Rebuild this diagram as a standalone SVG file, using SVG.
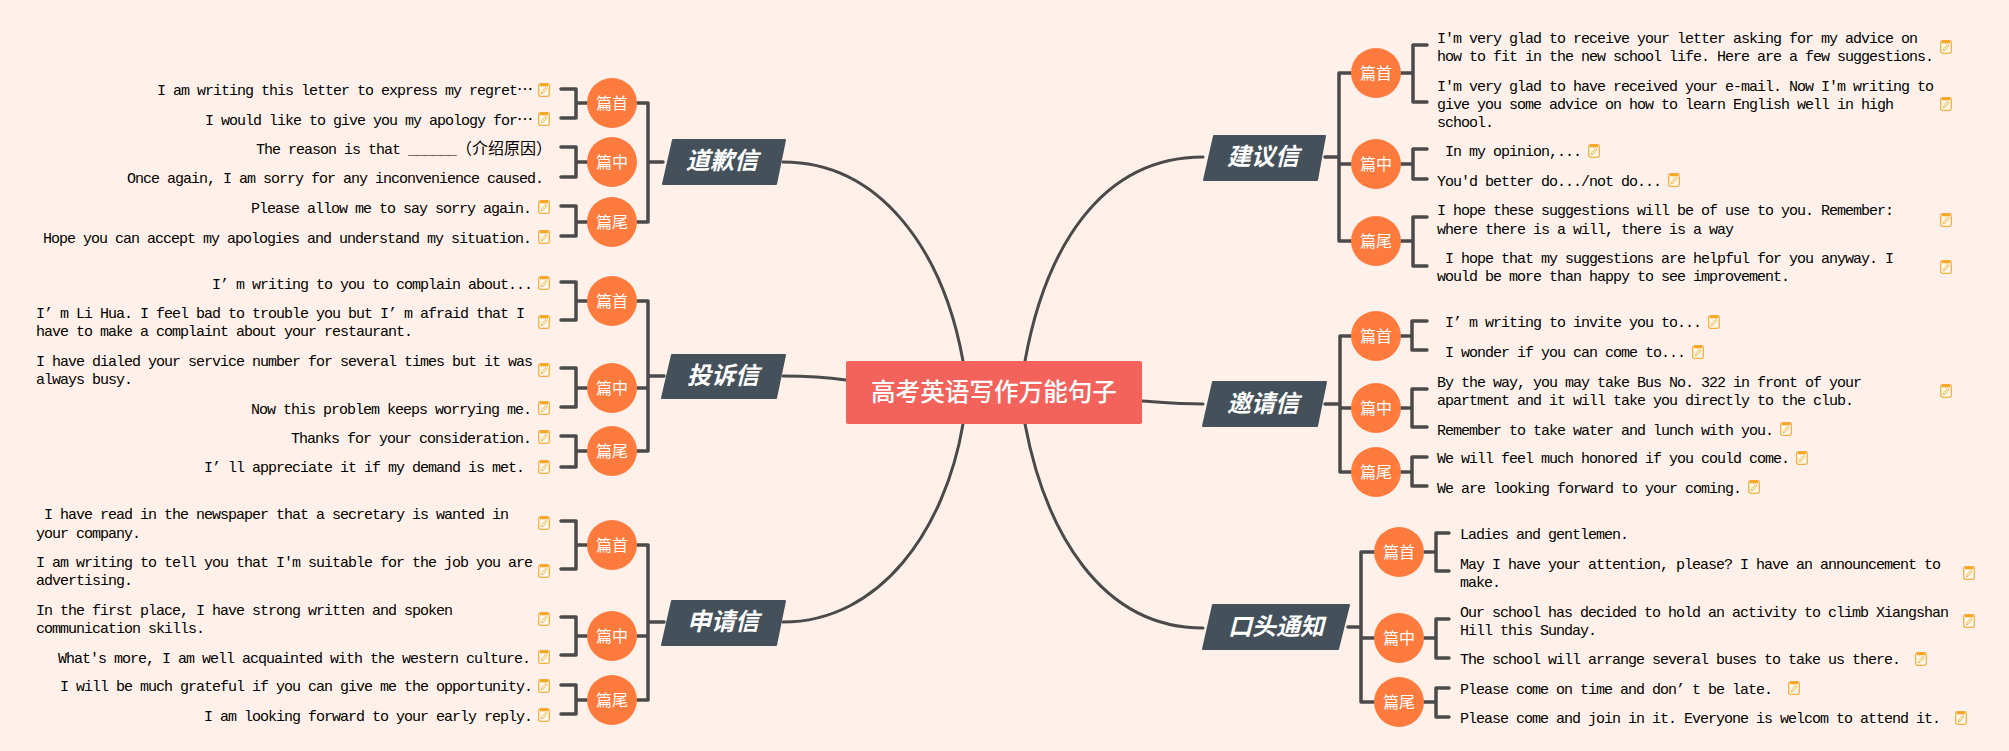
<svg xmlns="http://www.w3.org/2000/svg" xmlns:xlink="http://www.w3.org/1999/xlink" width="2009" height="751" viewBox="0 0 2009 751">
<style>
.c{fill:none;stroke:#4a4a4a;stroke-width:3.5;stroke-linecap:round;stroke-linejoin:round}
.m{fill:none;stroke:#4a4a4a;stroke-width:3;stroke-linecap:round}
.o{fill:#ff7a3d}
.ot{font-family:"Noto Sans CJK SC",sans-serif;font-size:16px;fill:#fff;text-anchor:middle}
.b{fill:#44515a;stroke:#44515a;stroke-width:2;stroke-linejoin:round}
.bt{font-family:"Noto Sans CJK SC",sans-serif;font-size:24px;font-weight:700;font-style:italic;fill:#fff;text-anchor:middle}
.t{font-family:"Liberation Mono","Noto Sans CJK SC",monospace;font-size:15px;letter-spacing:-1px;fill:#000}
.z{font-family:"Noto Sans CJK SC",sans-serif;font-size:16px;letter-spacing:0}
</style>
<defs>
<g id="note">
<rect x="0.7" y="0.7" width="10.6" height="12.6" rx="1.8" fill="#fff8ee" stroke="#f5b041" stroke-width="1.3"/>
<rect x="2" y="0.7" width="8" height="2.6" fill="#f5a623"/>
<path d="M3.5,11 L4,8.6 L7.6,4.4 L9,5.6 L5.4,9.9 Z" fill="none" stroke="#f5b041" stroke-width="0.9"/>
</g>
</defs>
<rect width="2009" height="751" fill="#fff1ea"/>
<g id="connectors">
<path class="m" d="M963,361 C943,250 880,162 783,162"/>
<path class="m" d="M846,380 C825,377 810,376 783,376"/>
<path class="m" d="M963,424 C945,530 880,622 783,622"/>
<path class="m" d="M1025,361 C1045,250 1100,157 1203,157"/>
<path class="m" d="M1142,401 C1170,403 1180,404 1203,404"/>
<path class="m" d="M1025,424 C1045,530 1100,628 1203,628"/>
<path class="c" d="M637,103H648V222H637M648,162H663"/>
<path class="c" d="M587,103H576M561,89H576V118H561"/>
<path class="c" d="M587,162H576M561,147H576V177H561"/>
<path class="c" d="M587,222H576M561,206H576V236H561"/>
<path class="c" d="M637,301H648V451H637M637,388H648M648,376H664"/>
<path class="c" d="M587,301H576M561,282H576V320H561"/>
<path class="c" d="M587,388H576M561,368H576V407H561"/>
<path class="c" d="M587,451H576M561,436H576V467H561"/>
<path class="c" d="M637,545H648V700H637M637,636H648M648,622H664"/>
<path class="c" d="M587,545H576M561,521H576V569H561"/>
<path class="c" d="M587,636H576M561,617H576V655H561"/>
<path class="c" d="M587,700H576M561,685H576V714H561"/>
<path class="c" d="M1351,73H1339V241H1351M1351,164H1339M1325,157H1339"/>
<path class="c" d="M1401,73H1413M1427,45H1413V102H1427"/>
<path class="c" d="M1401,164H1413M1427,149H1413V179H1427"/>
<path class="c" d="M1401,241H1413M1427,217H1413V266H1427"/>
<path class="c" d="M1351,336H1340V472H1351M1351,408H1340M1325,404H1340"/>
<path class="c" d="M1401,336H1412M1427,321H1412V350H1427"/>
<path class="c" d="M1401,408H1412M1427,389H1412V427H1427"/>
<path class="c" d="M1401,472H1412M1427,457H1412V486H1427"/>
<path class="c" d="M1374,552H1361V702H1374M1374,638H1361M1348,627H1361"/>
<path class="c" d="M1424,552H1436M1449,533H1436V571H1449"/>
<path class="c" d="M1424,638H1436M1449,619H1436V658H1449"/>
<path class="c" d="M1424,702H1436M1449,688H1436V717H1449"/>
</g>
<g id="root"><rect x="846" y="361" width="296" height="63" rx="2" fill="#f3635b"/><text x="994" y="401" font-family="'Noto Sans CJK SC',sans-serif" font-size="24.6px" font-weight="500" fill="#fff" text-anchor="middle">高考英语写作万能句子</text></g>

<g id="node-daoqian"><path class="b" d="M673,140H785L776,184H663Z"/><text class="bt" x="722" y="169">道歉信</text></g>
<g id="node-tousu"><path class="b" d="M672,355H785L776,398H662Z"/><text class="bt" x="723" y="384">投诉信</text></g>
<g id="node-shenqing"><path class="b" d="M672,601H785L776,645H662Z"/><text class="bt" x="723" y="630">申请信</text></g>
<g id="node-jianyi"><path class="b" d="M1214,136H1325L1317,180H1204Z"/><text class="bt" x="1263" y="165">建议信</text></g>
<g id="node-yaoqing"><path class="b" d="M1213,382H1326L1317,426H1203Z"/><text class="bt" x="1263" y="412">邀请信</text></g>
<g id="node-koutou"><path class="b" d="M1213,605H1349L1338,649H1203Z"/><text class="bt" x="1276" y="635">口头通知</text></g>

<g id="a1"><circle class="o" cx="612" cy="103" r="25"/><text class="ot" x="612" y="109">篇首</text></g>
<g id="a2"><circle class="o" cx="612" cy="162" r="25"/><text class="ot" x="612" y="168">篇中</text></g>
<g id="a3"><circle class="o" cx="612" cy="222" r="25"/><text class="ot" x="612" y="228">篇尾</text></g>
<g id="b1"><circle class="o" cx="612" cy="301" r="25"/><text class="ot" x="612" y="307">篇首</text></g>
<g id="b2"><circle class="o" cx="612" cy="388" r="25"/><text class="ot" x="612" y="394">篇中</text></g>
<g id="b3"><circle class="o" cx="612" cy="451" r="25"/><text class="ot" x="612" y="457">篇尾</text></g>
<g id="c1"><circle class="o" cx="612" cy="545" r="25"/><text class="ot" x="612" y="551">篇首</text></g>
<g id="c2"><circle class="o" cx="612" cy="636" r="25"/><text class="ot" x="612" y="642">篇中</text></g>
<g id="c3"><circle class="o" cx="612" cy="700" r="25"/><text class="ot" x="612" y="706">篇尾</text></g>
<g id="d1"><circle class="o" cx="1376" cy="73" r="25"/><text class="ot" x="1376" y="79">篇首</text></g>
<g id="d2"><circle class="o" cx="1376" cy="164" r="25"/><text class="ot" x="1376" y="170">篇中</text></g>
<g id="d3"><circle class="o" cx="1376" cy="241" r="25"/><text class="ot" x="1376" y="247">篇尾</text></g>
<g id="e1"><circle class="o" cx="1376" cy="336" r="25"/><text class="ot" x="1376" y="342">篇首</text></g>
<g id="e2"><circle class="o" cx="1376" cy="408" r="25"/><text class="ot" x="1376" y="414">篇中</text></g>
<g id="e3"><circle class="o" cx="1376" cy="472" r="25"/><text class="ot" x="1376" y="478">篇尾</text></g>
<g id="f1"><circle class="o" cx="1399" cy="552" r="25"/><text class="ot" x="1399" y="558">篇首</text></g>
<g id="f2"><circle class="o" cx="1399" cy="638" r="25"/><text class="ot" x="1399" y="644">篇中</text></g>
<g id="f3"><circle class="o" cx="1399" cy="702" r="25"/><text class="ot" x="1399" y="708">篇尾</text></g>

<g id="leaves-daoqian">
<g><text class="t" xml:space="preserve" x="157" y="95">I am writing this letter to express my regret<tspan class="z" xml:lang="zh-CN">…</tspan></text><use xlink:href="#note" href="#note" x="538" y="83"/></g>
<g><text class="t" xml:space="preserve" x="205" y="125">I would like to give you my apology for<tspan class="z" xml:lang="zh-CN">…</tspan></text><use xlink:href="#note" href="#note" x="538" y="112"/></g>
<g><text class="t" xml:space="preserve" x="256" y="154">The reason is that ______<tspan class="z">（介绍原因）</tspan></text></g>
<g><text class="t" xml:space="preserve" x="127" y="183">Once again, I am sorry for any inconvenience caused.</text></g>
<g><text class="t" xml:space="preserve" x="251" y="213">Please allow me to say sorry again.</text><use xlink:href="#note" href="#note" x="538" y="200"/></g>
<g><text class="t" xml:space="preserve" x="43" y="243">Hope you can accept my apologies and understand my situation.</text><use xlink:href="#note" href="#note" x="538" y="230"/></g>
</g>
<g id="leaves-tousu">
<g><text class="t" xml:space="preserve" x="212" y="289">I’ m writing to you to complain about...</text><use xlink:href="#note" href="#note" x="538" y="276"/></g>
<g><text class="t" xml:space="preserve" x="36" y="318">I’ m Li Hua. I feel bad to trouble you but I’ m afraid that I</text><text class="t" xml:space="preserve" x="36" y="336">have to make a complaint about your restaurant.</text><use xlink:href="#note" href="#note" x="538" y="315"/></g>
<g><text class="t" xml:space="preserve" x="36" y="366">I have dialed your service number for several times but it was</text><text class="t" xml:space="preserve" x="36" y="384">always busy.</text><use xlink:href="#note" href="#note" x="538" y="363"/></g>
<g><text class="t" xml:space="preserve" x="251" y="414">Now this problem keeps worrying me.</text><use xlink:href="#note" href="#note" x="538" y="401"/></g>
<g><text class="t" xml:space="preserve" x="291" y="443">Thanks for your consideration.</text><use xlink:href="#note" href="#note" x="538" y="430"/></g>
<g><text class="t" xml:space="preserve" x="204" y="472">I’ ll appreciate it if my demand is met.</text><use xlink:href="#note" href="#note" x="538" y="460"/></g>
</g>
<g id="leaves-shenqing">
<g><text class="t" xml:space="preserve" x="36" y="519"> I have read in the newspaper that a secretary is wanted in</text><text class="t" xml:space="preserve" x="36" y="538">your company.</text><use xlink:href="#note" href="#note" x="538" y="516"/></g>
<g><text class="t" xml:space="preserve" x="36" y="567">I am writing to tell you that I'm suitable for the job you are</text><text class="t" xml:space="preserve" x="36" y="585">advertising.</text><use xlink:href="#note" href="#note" x="538" y="564"/></g>
<g><text class="t" xml:space="preserve" x="36" y="615">In the first place, I have strong written and spoken</text><text class="t" xml:space="preserve" x="36" y="633">communication skills.</text><use xlink:href="#note" href="#note" x="538" y="612"/></g>
<g><text class="t" xml:space="preserve" x="58" y="663">What's more, I am well acquainted with the western culture.</text><use xlink:href="#note" href="#note" x="538" y="650"/></g>
<g><text class="t" xml:space="preserve" x="60" y="691">I will be much grateful if you can give me the opportunity.</text><use xlink:href="#note" href="#note" x="538" y="679"/></g>
<g><text class="t" xml:space="preserve" x="204" y="721">I am looking forward to your early reply.</text><use xlink:href="#note" href="#note" x="538" y="708"/></g>
</g>
<g id="leaves-jianyi">
<g><text class="t" xml:space="preserve" x="1437" y="43">I'm very glad to receive your letter asking for my advice on</text><text class="t" xml:space="preserve" x="1437" y="61">how to fit in the new school life. Here are a few suggestions.</text><use xlink:href="#note" href="#note" x="1940" y="40"/></g>
<g><text class="t" xml:space="preserve" x="1437" y="91">I'm very glad to have received your e-mail. Now I'm writing to</text><text class="t" xml:space="preserve" x="1437" y="109">give you some advice on how to learn English well in high</text><text class="t" xml:space="preserve" x="1437" y="127">school.</text><use xlink:href="#note" href="#note" x="1940" y="97"/></g>
<g><text class="t" xml:space="preserve" x="1437" y="156"> In my opinion,...</text><use xlink:href="#note" href="#note" x="1588" y="144"/></g>
<g><text class="t" xml:space="preserve" x="1437" y="186">You'd better do.../not do...</text><use xlink:href="#note" href="#note" x="1668" y="173"/></g>
<g><text class="t" xml:space="preserve" x="1437" y="215">I hope these suggestions will be of use to you. Remember:</text><text class="t" xml:space="preserve" x="1437" y="234">where there is a will, there is a way</text><use xlink:href="#note" href="#note" x="1940" y="213"/></g>
<g><text class="t" xml:space="preserve" x="1437" y="263"> I hope that my suggestions are helpful for you anyway. I</text><text class="t" xml:space="preserve" x="1437" y="281">would be more than happy to see improvement.</text><use xlink:href="#note" href="#note" x="1940" y="260"/></g>
</g>
<g id="leaves-yaoqing">
<g><text class="t" xml:space="preserve" x="1437" y="327"> I’ m writing to invite you to...</text><use xlink:href="#note" href="#note" x="1708" y="315"/></g>
<g><text class="t" xml:space="preserve" x="1437" y="357"> I wonder if you can come to...</text><use xlink:href="#note" href="#note" x="1692" y="345"/></g>
<g><text class="t" xml:space="preserve" x="1437" y="387">By the way, you may take Bus No. 322 in front of your</text><text class="t" xml:space="preserve" x="1437" y="405">apartment and it will take you directly to the club.</text><use xlink:href="#note" href="#note" x="1940" y="384"/></g>
<g><text class="t" xml:space="preserve" x="1437" y="435">Remember to take water and lunch with you.</text><use xlink:href="#note" href="#note" x="1780" y="422"/></g>
<g><text class="t" xml:space="preserve" x="1437" y="463">We will feel much honored if you could come.</text><use xlink:href="#note" href="#note" x="1796" y="451"/></g>
<g><text class="t" xml:space="preserve" x="1437" y="493">We are looking forward to your coming.</text><use xlink:href="#note" href="#note" x="1748" y="480"/></g>
</g>
<g id="leaves-koutou">
<g><text class="t" xml:space="preserve" x="1460" y="539">Ladies and gentlemen.</text></g>
<g><text class="t" xml:space="preserve" x="1460" y="569">May I have your attention, please? I have an announcement to</text><text class="t" xml:space="preserve" x="1460" y="587">make.</text><use xlink:href="#note" href="#note" x="1963" y="566"/></g>
<g><text class="t" xml:space="preserve" x="1460" y="617">Our school has decided to hold an activity to climb Xiangshan</text><text class="t" xml:space="preserve" x="1460" y="635">Hill this Sunday.</text><use xlink:href="#note" href="#note" x="1963" y="614"/></g>
<g><text class="t" xml:space="preserve" x="1460" y="664">The school will arrange several buses to take us there.</text><use xlink:href="#note" href="#note" x="1915" y="652"/></g>
<g><text class="t" xml:space="preserve" x="1460" y="694">Please come on time and don’ t be late.</text><use xlink:href="#note" href="#note" x="1788" y="681"/></g>
<g><text class="t" xml:space="preserve" x="1460" y="723">Please come and join in it. Everyone is welcom to attend it.</text><use xlink:href="#note" href="#note" x="1955" y="711"/></g>
</g>
</svg>
